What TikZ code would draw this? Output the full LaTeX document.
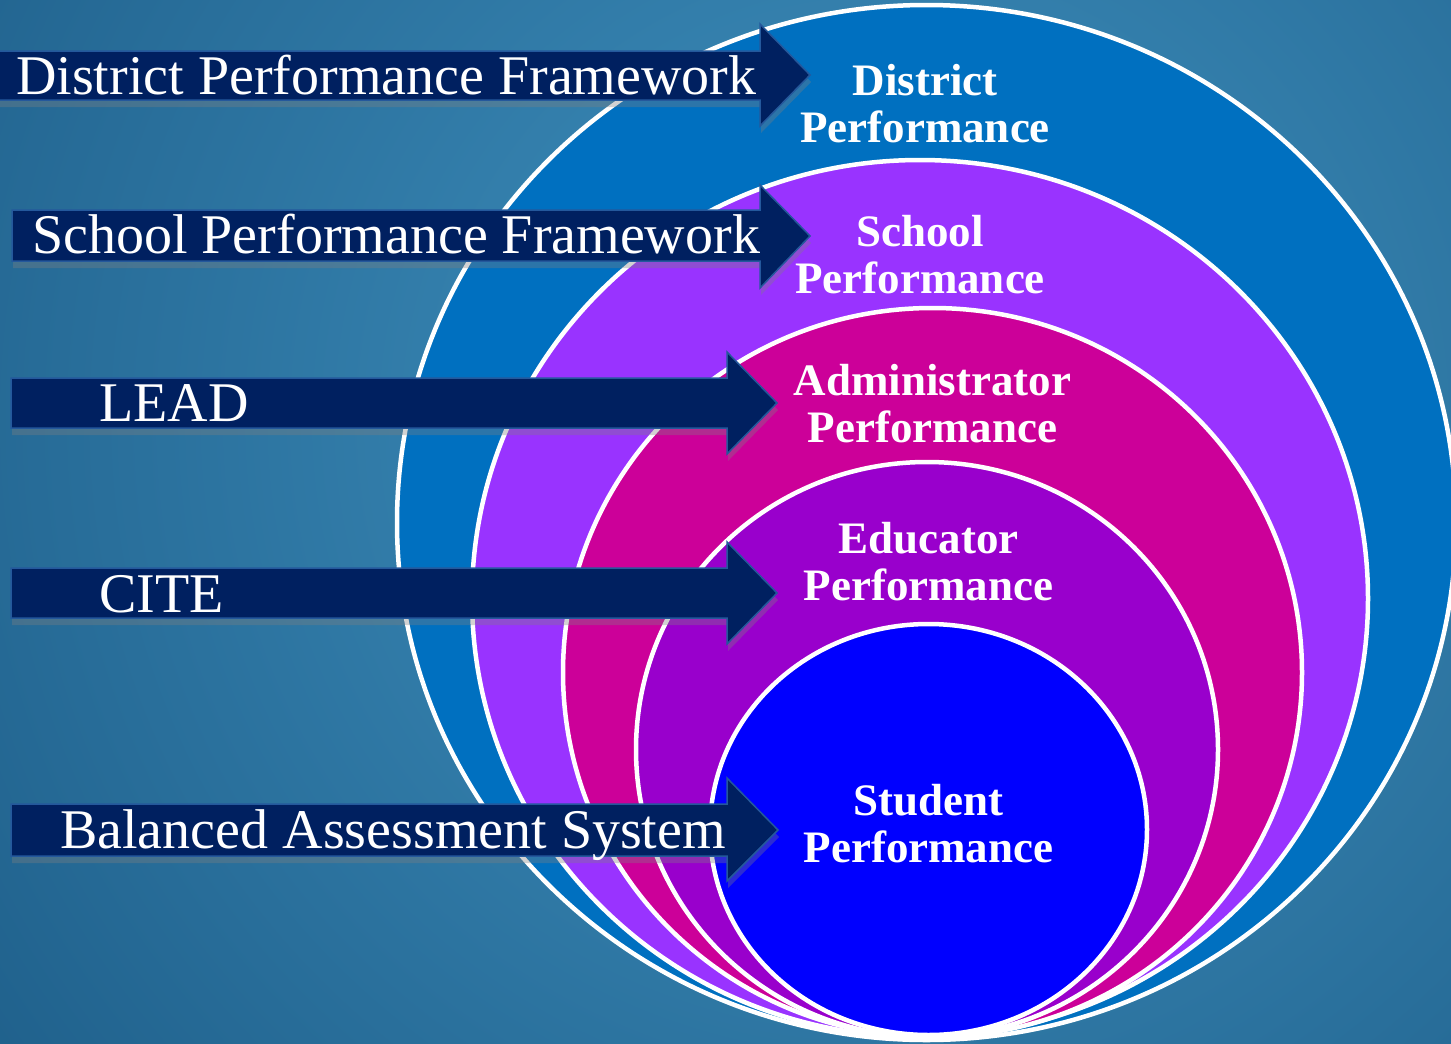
\documentclass[tikz,border=0pt]{standalone}
\usepackage{fontspec}
\setmainfont{Liberation Serif}
\usetikzlibrary{shadows}
\definecolor{bgA}{RGB}{64,146,192}
\definecolor{bgD}{RGB}{18,76,118}
\definecolor{outerblue}{RGB}{0,112,192}
\definecolor{purp}{RGB}{153,51,255}
\definecolor{mag}{RGB}{204,0,153}
\definecolor{viol}{RGB}{153,0,204}
\definecolor{inblue}{RGB}{0,0,255}
\definecolor{navy}{RGB}{0,32,96}
\definecolor{navyedge}{RGB}{36,88,156}
\begin{document}
\begin{tikzpicture}[x=1pt,y=-1pt,
  ring/.style={draw=white, line width=4.5pt},
  arrowshape/.style={fill=navy, draw=navyedge, line width=1.5pt,
    drop shadow={shadow xshift=1pt, shadow yshift=-7pt, opacity=0.35}},
  arrowtext/.style={text=white, font=\fontsize{56}{64}\selectfont, anchor=base west, inner sep=0pt},
  circlabel/.style={text=white, font=\fontsize{45}{47}\selectfont\bfseries, align=center, inner sep=0pt}]
\useasboundingbox (0,0) rectangle (1451,1044);
\begin{scope}
  \clip (0,0) rectangle (1451,1044);
  \fill[bgD] (0,0) rectangle (1451,1044);
  \shade[inner color=bgA, outer color=bgD] (880,420) circle [radius=1560];
  % nested circles
  \path[ring, fill=outerblue] (926.5,522.5) ellipse [x radius=529.5, y radius=517.5];
  \path[ring, fill=purp] (920,598.5) ellipse [x radius=448, y radius=438.5];
  \path[ring, fill=mag] (932.5,672.5) ellipse [x radius=369.5, y radius=364.5];
  \path[ring, fill=viol] (927,749.5) ellipse [x radius=291, y radius=287.5];
  \path[ring, fill=inblue] (928.5,829.5) ellipse [x radius=218.5, y radius=205.5];
  % arrows
  \path[arrowshape] (-2,51) -- (760,51) -- (760,24) -- (810,75) -- (760,126) -- (760,100) -- (-2,100) -- cycle;
  \path[arrowshape] (12,210) -- (760,210) -- (760,185) -- (810,236) -- (760,288) -- (760,261) -- (12,261) -- cycle;
  \path[arrowshape] (11,378) -- (727,378) -- (727,352) -- (777,403) -- (727,454) -- (727,428) -- (11,428) -- cycle;
  \path[arrowshape] (11,568) -- (727,568) -- (727,542) -- (777,593) -- (727,644) -- (727,618) -- (11,618) -- cycle;
  \path[arrowshape] (11,804) -- (727,804) -- (727,778) -- (778,830) -- (727,881) -- (727,856) -- (11,856) -- cycle;
\end{scope}
% arrow texts
\node[arrowtext] (tDistrict) at (16,94) {District Performance Framework};
\node[arrowtext] (tSchool) at (32,253) {School Performance Framework};
\node[arrowtext] (tLead) at (99,421) {LEAD};
\node[arrowtext] (tCite) at (99,612) {CITE};
\node[arrowtext] (tBalanced) at (60,848) {Balanced Assessment System};
% circle labels
\node[circlabel] (lDistrict) at (925,104) {District\\Performance};
\node[circlabel] (lSchool) at (920,255) {School\\Performance};
\node[circlabel] (lAdmin) at (932.5,404) {Administrator\\Performance};
\node[circlabel] (lEducator) at (928.5,562) {Educator\\Performance};
\node[circlabel] (lStudent) at (928.5,824) {Student\\Performance};
\end{tikzpicture}
\end{document}
